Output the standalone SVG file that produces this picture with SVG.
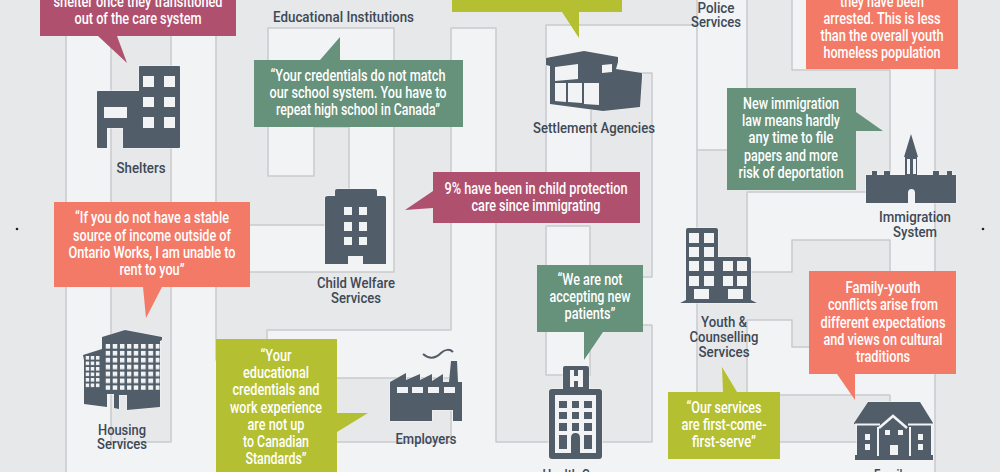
<svg xmlns="http://www.w3.org/2000/svg" width="1000" height="472" viewBox="0 0 1000 472">
<style>
.maze{fill:#e7e8ea;stroke:#c9cacd;stroke-width:1.5;stroke-linejoin:round}
.ic{fill:#515d68;stroke:#f3f4f6;stroke-width:1;paint-order:stroke;stroke-linejoin:round}
.w{fill:#f2f3f5}
.d{fill:#515d68}
text{font-family:"Roboto","Liberation Sans",sans-serif;text-anchor:middle}
.t{fill:#fff;font-size:16px;font-weight:500}
.l{fill:#3d4956;font-size:15px;font-weight:500}
.crimson{fill:#b0506f}.salmon{fill:#f47a68}.olive{fill:#b4bf32}.green{fill:#66917a}
</style>
<defs>
<pattern id="p1" width="5.2" height="5.5" patternUnits="userSpaceOnUse" x="85.5" y="356"><rect width="3.6" height="3.6" class="w"/></pattern>
<pattern id="p2" width="7.2" height="6.9" patternUnits="userSpaceOnUse" x="105.5" y="344"><rect width="4.6" height="4.6" class="w"/></pattern>
<pattern id="p3" width="7.4" height="6.9" patternUnits="userSpaceOnUse" x="133.5" y="344"><rect width="4.8" height="4.6" class="w"/></pattern>
</defs>
<rect width="1000" height="472" fill="#f2f3f5"/>
<g id="maze">
<path class="maze" d="M-5,-5H66V477H-5Z"/>
<path class="maze" d="M935,-5H1005V477H935Z"/>
<path class="maze" d="M111,-5H171V442H111Z"/>
<path class="maze" d="M216,-5V225H349V127H314V176H268V28H394V272H216V360H267V330H451V28H496V442H652V325H590V375H546V226H590V277H652V73H591V200H546V25H697V442H890V395H747V320H792V347H890V240H792V272H747V192H890V70H792V-5H747V150H697V25L697,-5Z"/>
<path class="maze" d="M300,378H451V442H300Z"/>
</g>
<g id="shelters">
<path class="ic" d="M139,67Q139,66 140,66H179Q180,66 180,67V147Q180,148 179,148H123V128H107V148H98Q97,148 97,147V92Q97,91 98,91H139Z"/>
<path class="w" d="M143,76h11v11h-11zM164,76h11v11h-11zM143,97h11v10h-11zM164,97h11v10h-11zM143,117h11v11h-11zM164,117h11v11h-11zM104,107h23v11h-23z"/>
<text class="l" x="141" y="173" textLength="49" lengthAdjust="spacingAndGlyphs">Shelters</text>
</g>
<g id="educational">
<text class="l" x="343.5" y="22" textLength="141" lengthAdjust="spacingAndGlyphs">Educational Institutions</text>
</g>
<g id="child-welfare">
<path class="ic" d="M325,198Q325,196 328,196H335V191Q335,189 337,189H375Q377,189 377,191V196H384Q386,196 386,198V264H325Z"/>
<path class="w" d="M344,207h8v8h-8zM359,207h8v8h-8zM344,222h8v9h-8zM359,222h8v9h-8zM344,237h8v8h-8zM359,237h8v8h-8zM348,256h15v8h-15z"/>
<text class="l" x="356" y="288" textLength="78" lengthAdjust="spacingAndGlyphs">Child Welfare</text>
<text class="l" x="356" y="303" textLength="50" lengthAdjust="spacingAndGlyphs">Services</text>
</g>
<g id="settlement">
<path class="ic" d="M546,58L584,51L618,57V62L616,69L642,73V77L640,107L603,111L550,104V66L546,65Z"/>
<path class="w" d="M555,67L578,64V79L555,81ZM602,65L612,64V72L602,73ZM555,83H566V102L555,101ZM568,83H582V103L568,102ZM584,83H599V105L584,104Z"/>
<text class="l" x="594" y="133" textLength="122" lengthAdjust="spacingAndGlyphs">Settlement Agencies</text>
</g>
<g id="police">
<text class="l" x="716" y="13" textLength="37" lengthAdjust="spacingAndGlyphs">Police</text>
<text class="l" x="716" y="27" textLength="50" lengthAdjust="spacingAndGlyphs">Services</text>
</g>
<g id="immigration">
<path class="ic" d="M866,203V175H872V171H877V175H884V171H890V175H905V157H904L911,134L918,157H917V175H933V171H939V175H947V171H952V175H956V203H915V193Q915,189 911.500,189Q908,189 908,193V203Z"/>
<path class="w" d="M907,159h3v15h-3zM913,159h3v15h-3z"/>
<text class="l" x="915" y="222" textLength="72" lengthAdjust="spacingAndGlyphs">Immigration</text>
<text class="l" x="915" y="237" textLength="44" lengthAdjust="spacingAndGlyphs">System</text>
</g>
<g id="housing">
<path class="ic" d="M83,355L102,349V342L102,337L125,330L162,337V340L160,341V407L127,410V395H119V409L114,408V394H107V407L84,404V360Z"/>
<rect x="85.500" y="356" width="15" height="33" fill="url(#p1)"/>
<rect x="105.500" y="344" width="26" height="46" fill="url(#p2)"/>
<rect x="133.500" y="344" width="26" height="46" fill="url(#p3)"/>
<text class="l" x="122" y="435" textLength="48" lengthAdjust="spacingAndGlyphs">Housing</text>
<text class="l" x="122" y="449" textLength="50" lengthAdjust="spacingAndGlyphs">Services</text>
</g>
<g id="employers">
<path class="ic" d="M390,382L406,373V380L420,374V380L432,374V381L443,374V382H449L451,361H457L458,382H462V421H453V410H432V421H390Z"/>
<path class="w" d="M397,387h11v6h-11zM412,387h11v6h-11zM428,387h11v6h-11zM444,387h11v6h-11z"/>
<path d="M423,354C430,360 436,358 441,353C445,349 450,349 453,352" fill="none" stroke="#515d68" stroke-width="2"/>
<text class="l" x="426" y="444" textLength="61" lengthAdjust="spacingAndGlyphs">Employers</text>
</g>
<g id="health-care">
<path class="ic" d="M563,368Q563,366 565,366H587Q589,366 589,368V389H599Q602,389 602,392V456Q602,459 599,459H552Q549,459 549,456V392Q549,389 552,389H563Z"/>
<path class="w" d="M555,395H596V453H555Z"/>
<path class="w" d="M570,370h4v6h4v-6h5v17h-5v-6h-4v6h-4z"/>
<path class="d" d="M559,401h8v7h-8zM572,401h7v7h-7zM584,401h8v7h-8zM559,412h8v7h-8zM572,412h7v7h-7zM584,412h8v7h-8zM559,423h8v8h-8zM572,423h7v8h-7zM584,423h8v8h-8zM559,435h8v14h-8zM584,435h8v14h-8zM571,453V438Q571,433 575.500,433Q580,433 580,438V453Z"/>
<text class="l" x="575" y="480" textLength="65" lengthAdjust="spacingAndGlyphs">Health Care</text>
</g>
<g id="youth">
<path class="ic" d="M686,300V230Q686,228 688,228H716Q718,228 718,230V257H749Q751,257 751,259V300L757,303H680Z"/>
<path class="w" d="M689,233h10v10h-10zM704,233h10v10h-10zM689,247h10v10h-10zM704,247h10v10h-10zM689,261h10v10h-10zM704,261h10v10h-10zM689,276h10v10h-10zM704,276h10v10h-10zM723,261h10v10h-10zM737,261h10v10h-10zM723,276h10v10h-10zM737,276h10v10h-10zM694,289h15v10h-15zM728,289h15v10h-15z"/>
<text class="l" x="724" y="327" textLength="46" lengthAdjust="spacingAndGlyphs">Youth &amp;</text>
<text class="l" x="724" y="342" textLength="69" lengthAdjust="spacingAndGlyphs">Counselling</text>
<text class="l" x="724" y="357" textLength="51" lengthAdjust="spacingAndGlyphs">Services</text>
</g>
<g id="family">
<path class="ic" d="M868,402H920L933,423V424L931,425V455H933V460H855V455H857V425L854,424V423Z"/>
<path d="M879,428L893,416L907,428" fill="none" stroke="#f2f3f5" stroke-width="2.500"/>
<path d="M878,427V456M910,427V456M855,424.500H880M908,424.500H933" fill="none" stroke="#f2f3f5" stroke-width="2"/>
<path class="w" d="M865,434h5v6h-5zM865,444h5v6h-5zM918,434h5v6h-5zM918,444h5v6h-5zM885,430h5v5h-5zM898,430h5v5h-5zM890,445h8v10h-8z"/>
<text class="l" x="891" y="480" textLength="34" lengthAdjust="spacingAndGlyphs">Family</text>
</g>
<g id="callouts">
<g id="c-shelter"><path class="crimson" d="M40,-5H236V36H117L127,63L98,36H40Z"/>
<text class="t" x="138" y="7" textLength="169" lengthAdjust="spacingAndGlyphs">shelter once they transitioned</text>
<text class="t" x="138" y="24" textLength="127" lengthAdjust="spacingAndGlyphs">out of the care system</text></g>
<g id="c-credentials"><path class="green" d="M254,60H320L340,37V60H463V127H254Z"/>
<text class="t" x="358" y="81" textLength="175" lengthAdjust="spacingAndGlyphs">“Your credentials do not match</text>
<text class="t" x="358" y="98" textLength="177" lengthAdjust="spacingAndGlyphs">our school system. You have to</text>
<text class="t" x="358" y="115" textLength="164" lengthAdjust="spacingAndGlyphs">repeat high school in Canada”</text></g>
<g id="c-protection"><path class="crimson" d="M433,172H640V223H433V208L405,210L433,191Z"/>
<text class="t" x="536" y="194" textLength="183" lengthAdjust="spacingAndGlyphs">9% have been in child protection</text>
<text class="t" x="536" y="211" textLength="129" lengthAdjust="spacingAndGlyphs">care since immigrating</text></g>
<g id="c-settlement"><path class="olive" d="M452,-5H622V12H579V38L562,12H452Z"/></g>
<g id="c-arrested"><path class="salmon" d="M806,-5H958V69H806Z"/>
<text class="t" x="882" y="7" textLength="84" lengthAdjust="spacingAndGlyphs">they have been</text>
<text class="t" x="882" y="24" textLength="117" lengthAdjust="spacingAndGlyphs">arrested. This is less</text>
<text class="t" x="882" y="41" textLength="123" lengthAdjust="spacingAndGlyphs">than the overall youth</text>
<text class="t" x="882" y="58" textLength="117" lengthAdjust="spacingAndGlyphs">homeless population</text></g>
<g id="c-law"><path class="green" d="M727,88H856V112L883,131H856V190H727Z"/>
<text class="t" x="791" y="109" textLength="96" lengthAdjust="spacingAndGlyphs">New immigration</text>
<text class="t" x="791" y="126" textLength="98" lengthAdjust="spacingAndGlyphs">law means hardly</text>
<text class="t" x="791" y="143" textLength="85" lengthAdjust="spacingAndGlyphs">any time to file</text>
<text class="t" x="791" y="161" textLength="94" lengthAdjust="spacingAndGlyphs">papers and more</text>
<text class="t" x="791" y="178" textLength="105" lengthAdjust="spacingAndGlyphs">risk of deportation</text></g>
<g id="c-income"><path class="salmon" d="M54,202H250V287H162L146,318L143,287H54Z"/>
<text class="t" x="152" y="223" textLength="154" lengthAdjust="spacingAndGlyphs">“If you do not have a stable</text>
<text class="t" x="152" y="241" textLength="158" lengthAdjust="spacingAndGlyphs">source of income outside of</text>
<text class="t" x="152" y="258" textLength="167" lengthAdjust="spacingAndGlyphs">Ontario Works, I am unable to</text>
<text class="t" x="152" y="275" textLength="65" lengthAdjust="spacingAndGlyphs">rent to you”</text></g>
<g id="c-standards"><path class="olive" d="M216,339H337V413H368L337,432V477H216Z"/>
<text class="t" x="276" y="361" textLength="31" lengthAdjust="spacingAndGlyphs">“Your</text>
<text class="t" x="276" y="378" textLength="66" lengthAdjust="spacingAndGlyphs">educational</text>
<text class="t" x="276" y="395" textLength="87" lengthAdjust="spacingAndGlyphs">credentials and</text>
<text class="t" x="276" y="413" textLength="92" lengthAdjust="spacingAndGlyphs">work experience</text>
<text class="t" x="276" y="430" textLength="57" lengthAdjust="spacingAndGlyphs">are not up</text>
<text class="t" x="276" y="447" textLength="66" lengthAdjust="spacingAndGlyphs">to Canadian</text>
<text class="t" x="276" y="464" textLength="61" lengthAdjust="spacingAndGlyphs">Standards”</text></g>
<g id="c-patients"><path class="green" d="M537,265H643V332H603L584,360V332H537Z"/>
<text class="t" x="590" y="285" textLength="65" lengthAdjust="spacingAndGlyphs">“We are not</text>
<text class="t" x="590" y="302" textLength="81" lengthAdjust="spacingAndGlyphs">accepting new</text>
<text class="t" x="590" y="319" textLength="51" lengthAdjust="spacingAndGlyphs">patients”</text></g>
<g id="c-services"><path class="olive" d="M668,392H723L722,367L737,392H780V459H668Z"/>
<text class="t" x="724" y="413" textLength="75" lengthAdjust="spacingAndGlyphs">“Our services</text>
<text class="t" x="724" y="430" textLength="85" lengthAdjust="spacingAndGlyphs">are first-come-</text>
<text class="t" x="724" y="447" textLength="64" lengthAdjust="spacingAndGlyphs">first-serve”</text></g>
<g id="c-conflicts"><path class="salmon" d="M809,271H956V374H855V400L837,374H809Z"/>
<text class="t" x="883" y="293" textLength="75" lengthAdjust="spacingAndGlyphs">Family-youth</text>
<text class="t" x="883" y="310" textLength="110" lengthAdjust="spacingAndGlyphs">conflicts arise from</text>
<text class="t" x="883" y="328" textLength="125" lengthAdjust="spacingAndGlyphs">different expectations</text>
<text class="t" x="883" y="345" textLength="119" lengthAdjust="spacingAndGlyphs">and views on cultural</text>
<text class="t" x="883" y="362" textLength="54" lengthAdjust="spacingAndGlyphs">traditions</text></g>
</g>
<circle cx="17" cy="229" r="1.300" fill="#222"/>
<circle cx="983" cy="229" r="1.300" fill="#222"/>
</svg>
